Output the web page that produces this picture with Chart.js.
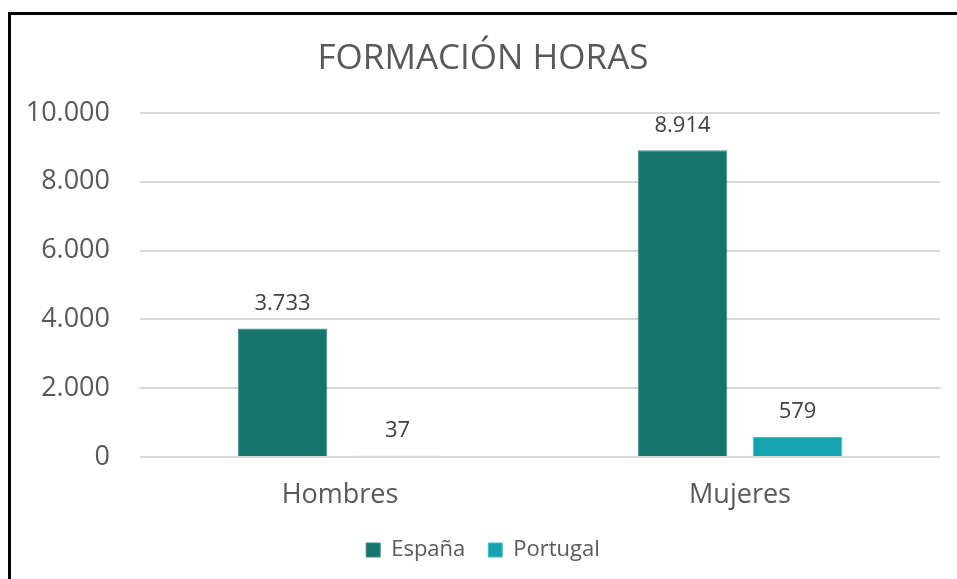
<!DOCTYPE html>
<html>
<head>
<meta charset="utf-8">
<script src="https://cdn.jsdelivr.net/npm/chart.js@4.4.1/dist/chart.umd.min.js"></script>
<style>
  html, body { margin: 0; padding: 0; background: #fff; overflow: hidden; }
  #frame { position: absolute; left: 8px; top: 12px; width: 1000px; height: 620px; border: 3px solid #000; box-sizing: border-box; }
  #wrap { position: absolute; left: 0; top: 0; width: 957px; height: 579px; }
</style>
</head>
<body>
<div id="frame"></div>
<div id="wrap"><canvas id="chart" width="957" height="579"></canvas></div>
<script>
const categories = ['Hombres', 'Mujeres'];
const seriesNames = ['España', 'Portugal'];
const espana = [3733, 8914];
const portugal = [37, 579];
const yTicks = [0, 2000, 4000, 6000, 8000, 10000];

const textGrey = '#595959';
const fontFamily = '"Open Sans", "Noto Sans", sans-serif';

function fmt(v) {
    return String(v).replace(/\B(?=(\d{3})+(?!\d))/g, '.');
}

// draws the value above every bar
const valueLabels = {
    id: 'valueLabels',
    afterDatasetsDraw(chart) {
        const ctx = chart.ctx;
        ctx.save();
        ctx.font = '22px ' + fontFamily;
        ctx.fillStyle = '#404040';
        ctx.textAlign = 'center';
        ctx.textBaseline = 'middle';
        chart.data.datasets.forEach((ds, i) => {
            const meta = chart.getDatasetMeta(i);
            meta.data.forEach((bar, j) => {
                ctx.fillText(fmt(ds.data[j]), bar.x, bar.y - 25);
            });
        });
        ctx.restore();
    }
};

const ctx = document.getElementById('chart').getContext('2d');
new Chart(ctx, {
    type: 'bar',
    data: {
        labels: categories,
        datasets: [
            { label: seriesNames[0], data: espana, backgroundColor: '#15746E', borderColor: '#3E8E88', borderWidth: 1 },
            { label: seriesNames[1], data: portugal, backgroundColor: '#17A4AF', borderColor: '#4DBAC2', borderWidth: 1 }
        ]
    },
    options: {
        responsive: false,
        animation: false,
        datasets: { bar: { categoryPercentage: 0.575, barPercentage: 0.78 } },
        layout: { padding: { left: 26, right: 17, top: 0, bottom: 8 } },
        plugins: {
            title: {
                display: true,
                text: 'FORMACIÓN HORAS',
                color: textGrey,
                font: { family: fontFamily, size: 35, weight: 'normal' },
                padding: { top: 38, bottom: 33 }
            },
            legend: {
                position: 'bottom',
                labels: {
                    color: textGrey,
                    font: { family: fontFamily, size: 22 },
                    boxWidth: 14,
                    boxHeight: 14,
                    padding: 23
                }
            },
            tooltip: { enabled: false }
        },
        scales: {
            x: {
                grid: { display: false, drawTicks: false },
                border: { display: false },
                ticks: { color: textGrey, font: { family: fontFamily, size: 27 }, padding: 22 },
                afterFit(scale) { scale.height = 59; }
            },
            y: {
                min: 0,
                max: 10000,
                afterBuildTicks(scale) { scale.ticks = yTicks.map(v => ({ value: v })); },
                grid: { color: '#d9d9d9', lineWidth: 2, drawTicks: false },
                border: { display: false },
                ticks: {
                    color: textGrey,
                    font: { family: fontFamily, size: 27 },
                    padding: 30,
                    callback: v => fmt(v)
                },
                afterFit(scale) { scale.width = 114; }
            }
        }
    },
    plugins: [valueLabels]
});
</script>
</body>
</html>
